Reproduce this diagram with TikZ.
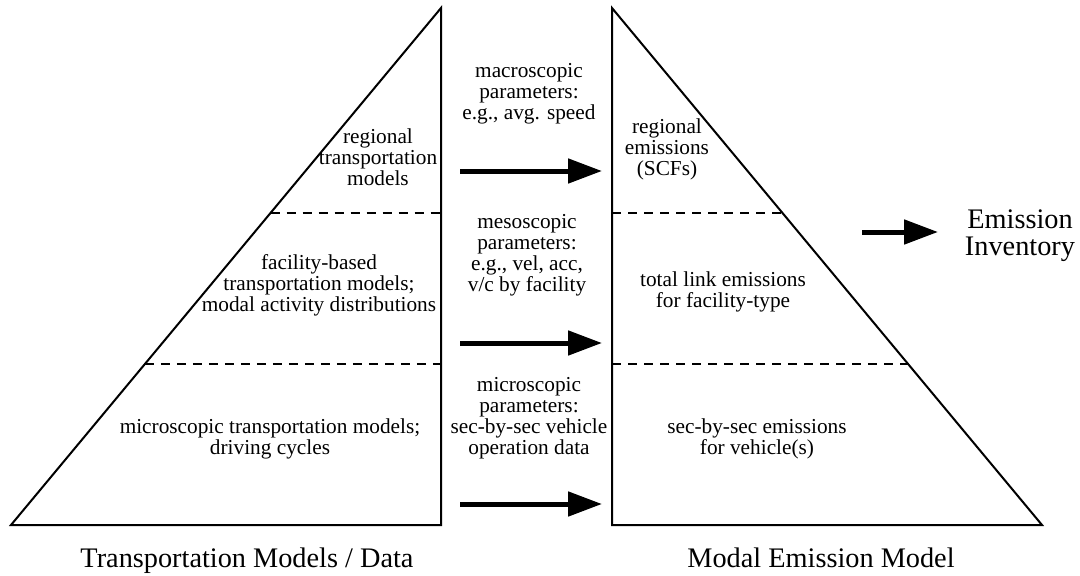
\documentclass[tikz,border=0pt]{standalone}
\usepackage{fontspec}
\setmainfont{Liberation Serif}
\usetikzlibrary{arrows.meta,calc}
\tikzset{
  frame/.style={line width=2pt, line join=miter},
  divider/.style={line width=2pt, dash pattern=on 9pt off 7pt},
  bigarrow/.style={line width=5pt, -{Triangle[length=34pt,width=24pt]}},
  lbl/.style={align=center, inner sep=0pt, font=\fontsize{21.3}{21}\selectfont},
  biglbl/.style={align=center, inner sep=0pt, font=\fontsize{28.3}{27}\selectfont}
}
\begin{document}
\begin{tikzpicture}[x=1pt,y=-1pt]
\useasboundingbox[fill=white] (0,0) rectangle (1080,576);
% left triangle
\coordinate (L1) at (11,525);
\coordinate (L2) at (441,525);
\coordinate (L3) at (441,8);
% right triangle
\coordinate (R1) at (612,525);
\coordinate (R2) at (1042,525);
\coordinate (R3) at (612,8);
\draw[frame] (L1) -- (L2) -- (L3) -- cycle;
\draw[frame] (R1) -- (R2) -- (R3) -- cycle;
% dividers
\coordinate (LA) at ($(L1)!0.6035!(L3)$);
\coordinate (LB) at ($(L1)!0.3114!(L3)$);
\coordinate (RA) at ($(R2)!0.6035!(R3)$);
\coordinate (RB) at ($(R2)!0.3114!(R3)$);
\draw[divider] (LA) -- (LA -| L2);
\draw[divider] (LB) -- (LB -| L2);
\draw[divider] (R3 |- RA) -- (RA);
\draw[divider] (R3 |- RB) -- (RB);
% texts left
\node[lbl] (lt) at (378,157) {regional\\transportation\\models};
\node[lbl] (lm) at (319,285) {facility-based\\transportation models;\\modal activity distributions};
\node[lbl] (lb) at (270,439) {microscopic transportation models;\\driving cycles};
% texts middle
\node[lbl] (mt) at (529,94) {macroscopic\\parameters:\\e.g., avg. speed};
\node[lbl] (mm) at (527,255) {mesoscopic\\parameters:\\e.g., vel, acc,\\v/c by facility};
\node[lbl] (mb) at (529,418) {microscopic\\parameters:\\sec-by-sec vehicle\\operation data};
% texts right
\node[lbl] (rt) at (667,149) {regional\\emissions\\(SCFs)};
\node[lbl] (rm) at (723,292) {total link emissions\\for facility-type};
\node[lbl] (rb) at (757,439) {sec-by-sec emissions\\for vehicle(s)};
% emission inventory
\node[biglbl] (ei) at (1020,236) {Emission\\Inventory};
% bottom labels
\node[biglbl, anchor=base] (tl) at (247,567) {Transportation Models / Data};
\node[biglbl, anchor=base] (ml) at (821,567) {Modal Emission Model};
% arrows
\coordinate (a1s) at (460,171); \coordinate (a1e) at (602,171);
\coordinate (a2s) at (460,343); \coordinate (a2e) at (602,343);
\coordinate (a3s) at (460,504); \coordinate (a3e) at (602,504);
\coordinate (a4s) at (862,232); \coordinate (a4e) at (938,232);
\draw[bigarrow] (a1s) -- (a1e);
\draw[bigarrow] (a2s) -- (a2e);
\draw[bigarrow] (a3s) -- (a3e);
\draw[bigarrow] (a4s) -- (a4e);
\end{tikzpicture}
\end{document}
